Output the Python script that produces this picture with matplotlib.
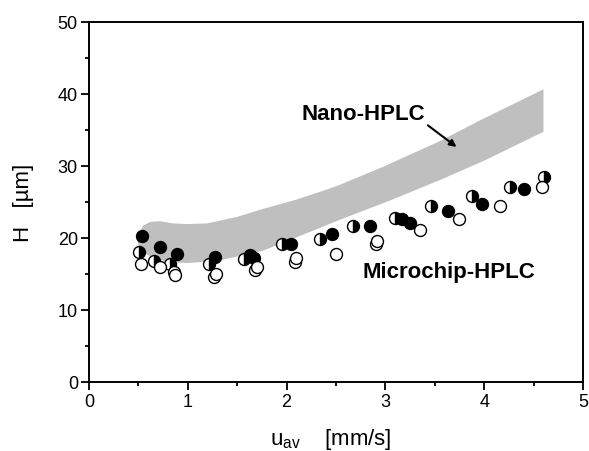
import matplotlib
matplotlib.use("Agg")
import matplotlib.pyplot as plt
from matplotlib.ticker import MultipleLocator

plt.rcParams['font.family'] = ['Liberation Sans', 'DejaVu Sans']
plt.rcParams['mathtext.fontset'] = 'custom'
plt.rcParams['mathtext.rm'] = 'Liberation Sans'
plt.rcParams['mathtext.it'] = 'Liberation Sans'

# Nano-HPLC band (upper edge left->right, lower edge right->left)
band_upper_x = [0.49, 0.51, 0.55, 0.62, 0.72, 0.85, 1.0, 1.2, 1.5, 1.76, 2.1, 2.43, 2.53, 2.97, 3.55, 3.96, 4.6]
band_upper_y = [19.5, 20.8, 21.7, 22.2, 22.3, 22.0, 21.9, 22.0, 22.9, 24.0, 25.3, 26.8, 27.3, 29.8, 33.4, 36.3, 40.6]
band_lower_x = [4.6, 4.0, 3.55, 3.07, 2.54, 2.27, 1.76, 1.3, 1.0, 0.8, 0.62, 0.52, 0.49]
band_lower_y = [34.7, 30.7, 28.0, 25.3, 22.5, 21.0, 18.2, 16.8, 16.5, 16.6, 17.4, 18.3, 19.5]

# Microchip-HPLC series
filled_x = [0.54, 0.72, 0.89, 1.28, 1.63, 1.67, 2.04, 2.46, 2.84, 3.17, 3.25, 3.63, 3.98, 4.40]
filled_y = [20.3, 18.7, 17.8, 17.3, 17.6, 17.2, 19.1, 20.5, 21.7, 22.6, 22.0, 23.7, 24.7, 26.8]

half_x = [0.51, 0.66, 0.82, 1.21, 1.57, 1.95, 2.34, 2.67, 3.10, 3.46, 3.88, 4.26, 4.61]
half_y = [18.0, 16.8, 16.4, 16.4, 17.1, 19.1, 19.8, 21.7, 22.8, 24.4, 25.8, 27.0, 28.5]

open_x = [0.53, 0.72, 0.86, 0.87, 1.27, 1.29, 1.68, 1.70, 2.09, 2.10, 2.50, 2.90, 2.92, 3.35, 3.75, 4.16, 4.59]
open_y = [16.4, 15.9, 15.2, 14.9, 14.5, 15.0, 15.6, 16.0, 16.7, 17.2, 17.8, 19.1, 19.5, 21.1, 22.6, 24.4, 27.0]

x_ticks = [0, 1, 2, 3, 4, 5]
y_ticks = [0, 10, 20, 30, 40, 50]

fig = plt.figure(figsize=(5.89, 4.52), dpi=100)
ax = fig.add_axes([0.1511, 0.1527, 0.8387, 0.7975])

ax.fill(band_upper_x + band_lower_x, band_upper_y + band_lower_y,
        color='#bfbfbf', lw=0, zorder=1)

ms = 8.6
ax.plot(half_x, half_y, 'o', ms=ms, mec='black', mew=1.0, mfc='black',
        fillstyle='right', markerfacecoloralt='white', zorder=3)
ax.plot(filled_x, filled_y, 'o', ms=ms, mec='black', mew=1.0, mfc='black', zorder=4)
ax.plot(open_x, open_y, 'o', ms=ms, mec='black', mew=1.0, mfc='white', zorder=5)

ax.text(2.78, 37.2, 'Nano-HPLC', fontsize=16, fontweight='bold', ha='center', va='center', zorder=6)
ax.text(3.64, 15.3, 'Microchip-HPLC', fontsize=16, fontweight='bold', ha='center', va='center', zorder=6)
ax.annotate('', xy=(3.72, 32.6), xytext=(3.43, 35.6),
            arrowprops=dict(arrowstyle='-|>', color='black', lw=1.5, mutation_scale=10,
                            shrinkA=0, shrinkB=0), zorder=6)

ax.set_xlim(0, 5)
ax.set_ylim(0, 50)
ax.set_xticks(x_ticks)
ax.set_yticks(y_ticks)
ax.xaxis.set_minor_locator(MultipleLocator(0.5))
ax.yaxis.set_minor_locator(MultipleLocator(5))
ax.tick_params(which='major', direction='out', length=6, width=1.3, labelsize=13, pad=2)
ax.tick_params(which='minor', direction='out', length=3, width=1.3)
for s in ax.spines.values():
    s.set_linewidth(1.4)

ax.set_xlabel(r'$\mathregular{u_{av}}$    [mm/s]', fontsize=16)
ax.set_ylabel('H   [µm]', fontsize=16)
ax.yaxis.set_label_coords(-0.112, 0.5)
ax.xaxis.set_label_coords(0.49, -0.122)

fig.savefig('out.png', dpi=100)
